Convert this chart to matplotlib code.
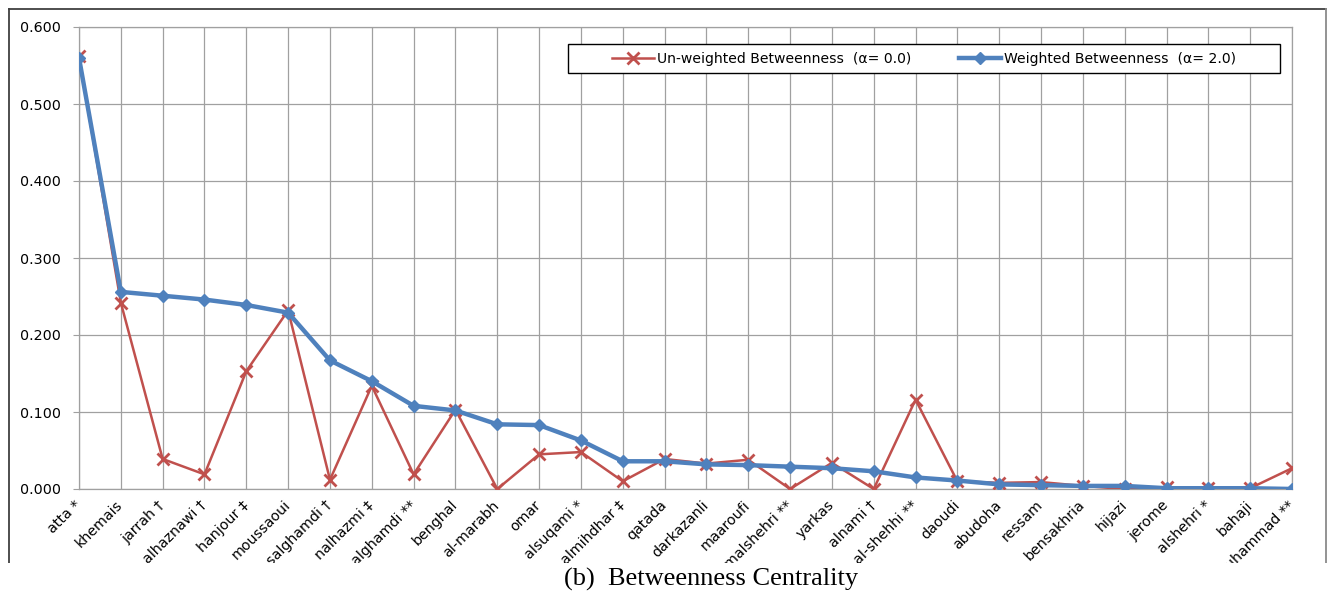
import numpy as np
import matplotlib
matplotlib.use("Agg")
import matplotlib.pyplot as plt
from matplotlib.lines import Line2D
from matplotlib.patches import Rectangle

# names along the category axis
names = ["atta *", "khemais", "jarrah \u2020", "alhaznawi \u2020", "hanjour \u2021",
         "moussaoui", "salghamdi \u2020", "nalhazmi \u2021", "alghamdi **", "benghal",
         "al-marabh", "omar", "alsuqami *", "almihdhar \u2021", "qatada",
         "darkazanli", "maaroufi", "malshehri **", "yarkas", "alnami \u2020",
         "al-shehhi **", "daoudi", "abudoha", "ressam", "bensakhria",
         "hijazi", "jerome", "alshehri *", "bahaji", "muhammad **"]

# un-weighted betweenness (alpha = 0.0)
unweighted = [0.562, 0.242, 0.039, 0.019, 0.153, 0.232, 0.012, 0.134, 0.019, 0.103,
              0.000, 0.045, 0.048, 0.010, 0.039, 0.033, 0.038, 0.000, 0.034, 0.000,
              0.116, 0.010, 0.008, 0.009, 0.004, 0.000, 0.002, 0.001, 0.001, 0.027]

# weighted betweenness (alpha = 2.0)
weighted = [0.560, 0.256, 0.251, 0.246, 0.239, 0.229, 0.167, 0.140, 0.108, 0.102,
            0.084, 0.083, 0.063, 0.036, 0.036, 0.032, 0.031, 0.029, 0.027, 0.023,
            0.015, 0.011, 0.006, 0.005, 0.004, 0.004, 0.001, 0.001, 0.001, 0.000]

yticks = [0.0, 0.1, 0.2, 0.3, 0.4, 0.5, 0.6]

W, H = 1327, 592
fig = plt.figure(figsize=(W / 100, H / 100), dpi=100)
fig.patch.set_facecolor("white")

# plot area in pixels: x 79..1292, y 27..489
ax = fig.add_axes([79 / W, (H - 489) / H, 1213 / W, 462 / H])

x = np.arange(len(names))
grid_col = "#a0a0a0"

ax.plot(x, unweighted, color="#c0504d", lw=1.8, marker="x", ms=8, mew=2,
        label="Un-weighted Betweenness  (\u03b1= 0.0)", zorder=3)
ax.plot(x, weighted, color="#4f81bd", lw=3.2, marker="D", ms=6.5,
        label="Weighted Betweenness  (\u03b1= 2.0)", zorder=4)

ax.set_xlim(0, len(names) - 1)
ax.set_ylim(0, 0.6)
ax.set_yticks(yticks)
ax.set_yticklabels(["%.3f" % v for v in yticks], fontsize=10.3)
ax.set_xticks(x)
ax.set_xticklabels(names, rotation=45, ha="right", va="center",
                   rotation_mode="anchor", fontsize=10.3)
ax.tick_params(axis="x", length=0, pad=10)
ax.tick_params(axis="y", length=4, color=grid_col, pad=9)

ax.grid(True, color=grid_col, lw=0.9)
ax.set_axisbelow(True)
for s in ax.spines.values():
    s.set_color(grid_col)
    s.set_linewidth(0.9)

# legend box
ax.add_patch(Rectangle((0.4031, 0.9004), 0.587, 0.0628, transform=ax.transAxes,
                       facecolor="white", edgecolor="black", lw=1, zorder=6))
ax.legend(loc="center", bbox_to_anchor=(0.6966, 0.9318), ncol=2, frameon=False,
          fontsize=10.1, handlelength=3.0, handletextpad=0.2, columnspacing=3.4
          ).set_zorder(7)

# chart frame (left, top, right)
for xs, ys, c in [([8.5, 8.5], [563, 8.5], "#404040"),
                  ([8.5, 1326], [8.5, 8.5], "#404040"),
                  ([1326, 1326], [8.5, 563], "#8a8a8a")]:
    fig.add_artist(Line2D([v / W for v in xs], [1 - v / H for v in ys],
                          color=c, lw=1.3, zorder=9))

# hide label overflow below the chart frame
fig.add_artist(Rectangle((0, 0), 1, (H - 563) / H, transform=fig.transFigure,
                         facecolor="white", edgecolor="none", zorder=10))

fig.text(711 / W, 1 - 579 / H, "(b)  Betweenness Centrality", ha="center",
         va="center", fontsize=19, family="Liberation Serif", zorder=11)

fig.savefig("out.png", dpi=100)
